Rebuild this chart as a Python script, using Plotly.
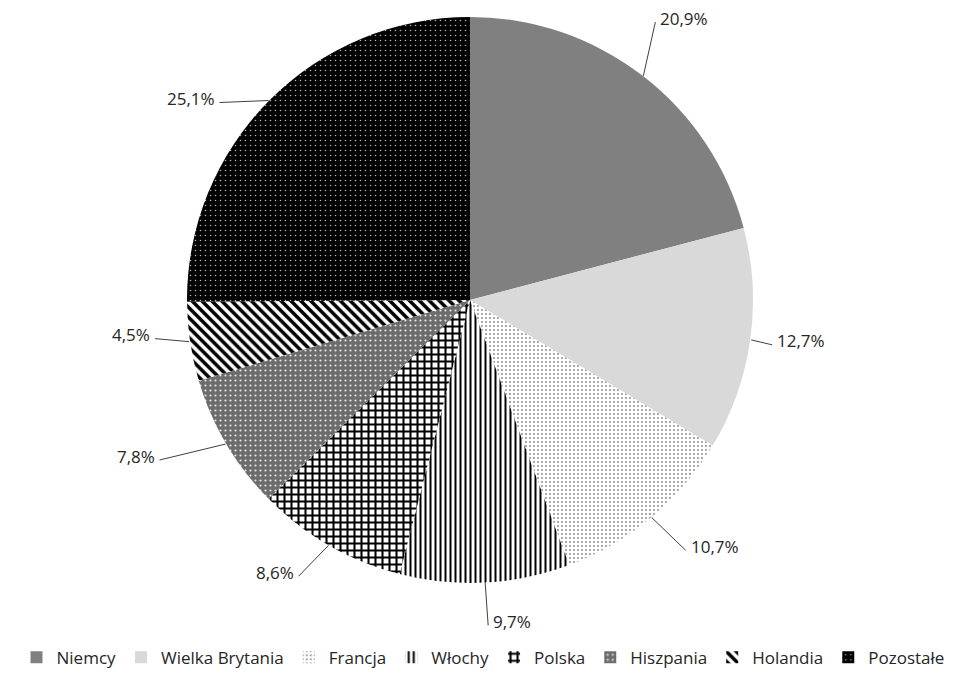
import math
import plotly.graph_objects as go

kraje = ['Niemcy', 'Wielka Brytania', 'Francja', 'Włochy', 'Polska', 'Hiszpania', 'Holandia', 'Pozostałe']
udzial = [20.9, 12.7, 10.7, 9.7, 8.6, 7.8, 4.5, 25.1]

# wygląd wycinków (wzory jak w Excelu, czarno-białe)
ksztalt = ['', '', '.', '|', '+', '.', '\\', '.']
tlo = ['#808080', '#d9d9d9', 'white', 'white', 'white', '#6c6c6c', 'white', 'black']
wzor = ['#808080', '#d9d9d9', '#8a8a8a', 'black', 'black', '#e8e8e8', 'black', '#b0b0b0']
rozmiar = [8, 8, 4, 5, 7, 5, 7, 5]
gestosc = [0.3, 0.3, 0.18, 0.4, 0.5, 0.15, 0.5, 0.08]

# przesunięcie etykiet od krawędzi koła (piksele)
przes = [(12, -54), (21, 5), (34, 33), (3, 43), (-30, 31), (-66, 16), (-34, -3), (-49, 2)]

# strona ma 8 px marginesu body, więc rysunek jest o 8 px mniejszy i przesunięty
W, H = 950, 668
mt, mb = 9, 91
ph = H - mt - mb
cx, cy, R = 462, mt + ph / 2, ph / 2


def px(x):
    return x / W


def py(y):
    return 1 - (y - mt) / ph


fig = go.Figure()
fig.add_trace(go.Pie(
    labels=kraje, values=udzial, sort=False, direction='clockwise', rotation=0,
    textinfo='none', hoverinfo='label+percent',
    domain=dict(x=[0, 2 * cx / W], y=[0, 1]),
    marker=dict(colors=tlo, line=dict(color='white', width=0),
                pattern=dict(shape=ksztalt, bgcolor=tlo, fgcolor=wzor,
                             size=rozmiar, solidity=gestosc, fillmode='replace')),
))

suma = sum(udzial)
narast = 0
for k, (v, (dx, dy)) in enumerate(zip(udzial, przes)):
    kat = 2 * math.pi * (narast + v / 2) / suma
    narast += v
    ex, ey = cx + R * math.sin(kat), cy - R * math.cos(kat)
    bx, by = ex + dx, ey + dy
    fig.add_shape(type='line', xref='paper', yref='paper',
                  x0=px(ex), y0=py(ey), x1=px(bx), y1=py(by),
                  line=dict(color='#404040', width=1))
    prawa = math.sin(kat) > 0
    fig.add_annotation(
        x=px(bx + (3 if prawa else -3)), y=py(by - 4), xref='paper', yref='paper',
        text=f'{v:.1f}%'.replace('.', ','), showarrow=False,
        xanchor='left' if prawa else 'right', yanchor='middle',
        font=dict(size=17, color='#262626'))

fig.update_layout(
    width=W, height=H,
    margin=dict(l=0, r=0, t=mt, b=mb),
    paper_bgcolor='white', plot_bgcolor='white',
    font=dict(family='Open Sans, sans-serif', size=17, color='#262626'),
    showlegend=True,
    legend=dict(orientation='h', x=0.5, xanchor='center', y=py(652), yanchor='middle',
                itemwidth=30, font=dict(size=17), traceorder='normal'),
)

fig.write_html('out.html')
